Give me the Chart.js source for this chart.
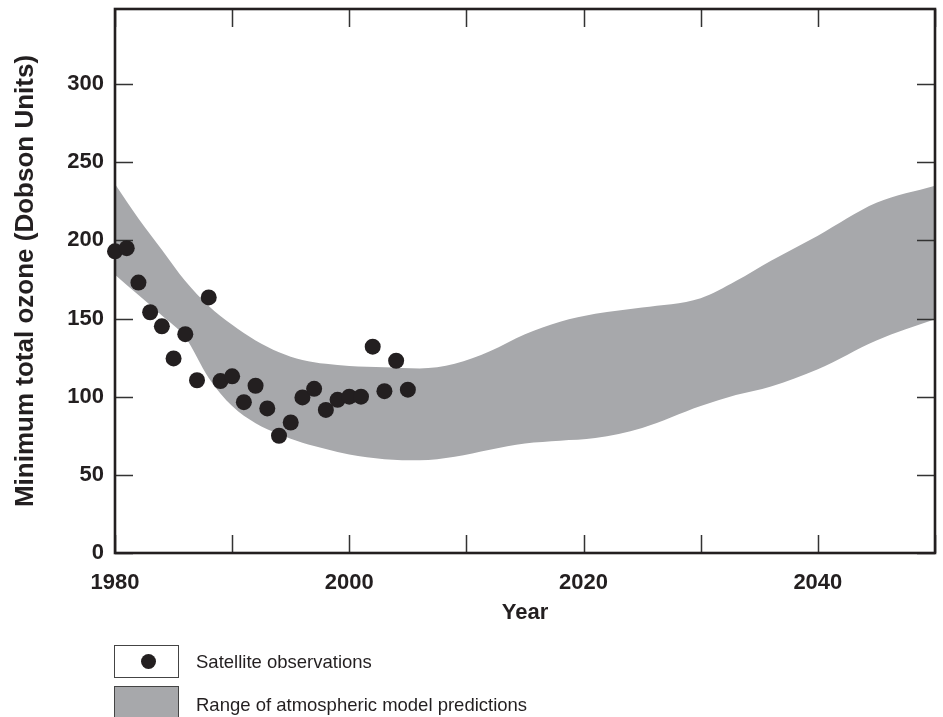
<!DOCTYPE html>
<html>
<head>
<meta charset="utf-8">
<script src="https://cdn.jsdelivr.net/npm/chart.js@4.4.1/dist/chart.umd.min.js"></script>
<style>
  html, body { margin: 0; padding: 0; background: #ffffff; }
  #wrap { position: relative; width: 943px; height: 717px; overflow: hidden; background: #fff; }
  #c { position: absolute; left: 0; top: 0; }
  .lg-box { position: absolute; left: 114px; width: 63px; height: 31px; border: 1.5px solid #444; box-sizing: content-box; }
  .lg-dot { position: absolute; left: 26px; top: 8px; width: 15px; height: 15px; border-radius: 50%; background: #231f20; }
  .lg-text { position: absolute; left: 196px; height: 22px; line-height: 22px; font-family: "Liberation Sans", Arial, sans-serif; font-size: 18.5px; color: #231f20; white-space: nowrap; }
</style>
</head>
<body>
<div id="wrap">
  <canvas id="c" width="943" height="717"></canvas>
  <div class="lg-box" style="top:645px;background:#ffffff;"><div class="lg-dot"></div></div>
  <div class="lg-text" style="top:651px;">Satellite observations</div>
  <div class="lg-box" style="top:686px;background:#a7a8ab;"></div>
  <div class="lg-text" style="top:694px;">Range of atmospheric model predictions</div>
</div>
<script>
// ---- Data ----
const obsYears = [1980,1981,1982,1983,1984,1985,1986,1987,1988,1989,1990,1991,1992,1993,1994,1995,1996,1997,1998,1999,2000,2001,2002,2003,2004,2005];
const obsOzone = [193,195,173,154,145,124.5,140,110.5,163.5,110,113,96.5,107,92.5,75,83.5,99.5,105,91.5,98,100,100,132,103.5,123,104.5];

const bandYears = [1980,1982,1984,1986,1988,1990,1992,1994,1996,1998,2000,2003,2006,2009,2012,2015,2018,2021,2025,2030,2033,2036,2040,2045,2050];
const bandUpper = [236,214,194,174,158,146,136,128.5,123.5,121,119.6,118.8,118,121,129,140,148,153,157,163,174,187,203,224,235];
const bandLower = [178,165,152,138,112,94,83,76,70.5,66.5,63,60,59.3,61.5,66,70,71.8,73.5,80,94,101,106.5,117.5,136,149.5];

const xTickYears = [1980,1990,2000,2010,2020,2030,2040,2050];
const xLabelYears = [1980,2000,2020,2040];
const yTickValues = [0,50,100,150,200,250,300];

const xTitle = 'Year';
const yTitle = 'Minimum total ozone (Dobson Units)';

// ---- Styles ----
const INK = '#231f20';
const BAND = '#a7a8ab';
const FONT = '"Liberation Sans", Arial, Helvetica, sans-serif';

const toXY = (xs, ys) => xs.map((x, i) => ({ x: x, y: ys[i] }));

const framePlugin = {
  id: 'frameTicks',
  afterDatasetDraw(chart, args) {
    if (args.index !== 1) return;
    const ctx = chart.ctx;
    const a = chart.chartArea;
    const xs = chart.scales.x, ys = chart.scales.y;
    const TL = 18;
    ctx.save();
    ctx.strokeStyle = '#333';
    ctx.lineWidth = 1.5;
    ctx.beginPath();
    xTickYears.forEach(v => {
      const px = Math.round(xs.getPixelForValue(v)) + 0.5;
      ctx.moveTo(px, a.bottom); ctx.lineTo(px, a.bottom - TL);
      ctx.moveTo(px, a.top); ctx.lineTo(px, a.top + TL);
    });
    yTickValues.forEach(v => {
      const py = Math.round(ys.getPixelForValue(v)) + 0.5;
      ctx.moveTo(a.left, py); ctx.lineTo(a.left + TL, py);
      ctx.moveTo(a.right, py); ctx.lineTo(a.right - TL, py);
    });
    ctx.stroke();
    ctx.strokeStyle = INK;
    ctx.lineWidth = 2.6;
    ctx.strokeRect(a.left, a.top, a.right - a.left, a.bottom - a.top);
    ctx.restore();
  }
};

new Chart(document.getElementById('c'), {
  type: 'scatter',
  data: {
    datasets: [
      {
        label: 'Satellite observations',
        data: toXY(obsYears, obsOzone),
        backgroundColor: INK,
        borderWidth: 0,
        pointRadius: 8,
        pointHoverRadius: 8,
        clip: false,
        order: 0
      },
      {
        type: 'line',
        label: 'Range upper',
        data: toXY(bandYears, bandUpper),
        borderWidth: 0,
        borderColor: 'rgba(0,0,0,0)',
        backgroundColor: BAND,
        pointRadius: 0,
        fill: '+1',
        cubicInterpolationMode: 'monotone',
        order: 1
      },
      {
        type: 'line',
        label: 'Range lower',
        data: toXY(bandYears, bandLower),
        borderWidth: 0,
        borderColor: 'rgba(0,0,0,0)',
        backgroundColor: BAND,
        pointRadius: 0,
        fill: false,
        cubicInterpolationMode: 'monotone',
        order: 1
      }
    ]
  },
  options: {
    responsive: false,
    animation: false,
    devicePixelRatio: 1,
    layout: { padding: { left: 0, top: 9, right: 8, bottom: 0 } },
    plugins: { legend: { display: false }, tooltip: { enabled: false } },
    scales: {
      x: {
        type: 'linear',
        min: 1980, max: 2050,
        afterBuildTicks: s => { s.ticks = xLabelYears.map(v => ({ value: v })); },
        afterFit: s => { s.height = 164; s.paddingLeft = 0; s.paddingRight = 0; },
        grid: { display: false, drawTicks: false },
        border: { display: false },
        ticks: {
          autoSkip: false, maxRotation: 0, padding: 17,
          callback: v => String(v),
          color: INK, font: { family: FONT, size: 22, weight: 'bold' }
        },
        title: {
          display: true, text: xTitle, color: INK,
          font: { family: FONT, size: 22, weight: 'bold' },
          padding: { top: 0, bottom: 91 }
        }
      },
      y: {
        min: 0, max: 348,
        afterBuildTicks: s => { s.ticks = yTickValues.map(v => ({ value: v })); },
        afterFit: s => { s.width = 115; s.paddingTop = 0; s.paddingBottom = 0; },
        grid: { display: false, drawTicks: false },
        border: { display: false },
        ticks: {
          padding: 11,
          callback: v => String(v),
          color: INK, font: { family: FONT, size: 22, weight: 'bold' }
        },
        title: {
          display: true, text: yTitle, color: INK,
          font: { family: FONT, size: 26, weight: 'bold' },
          padding: { top: 10, bottom: 0 }
        }
      }
    }
  },
  plugins: [framePlugin]
});
</script>
</body>
</html>
